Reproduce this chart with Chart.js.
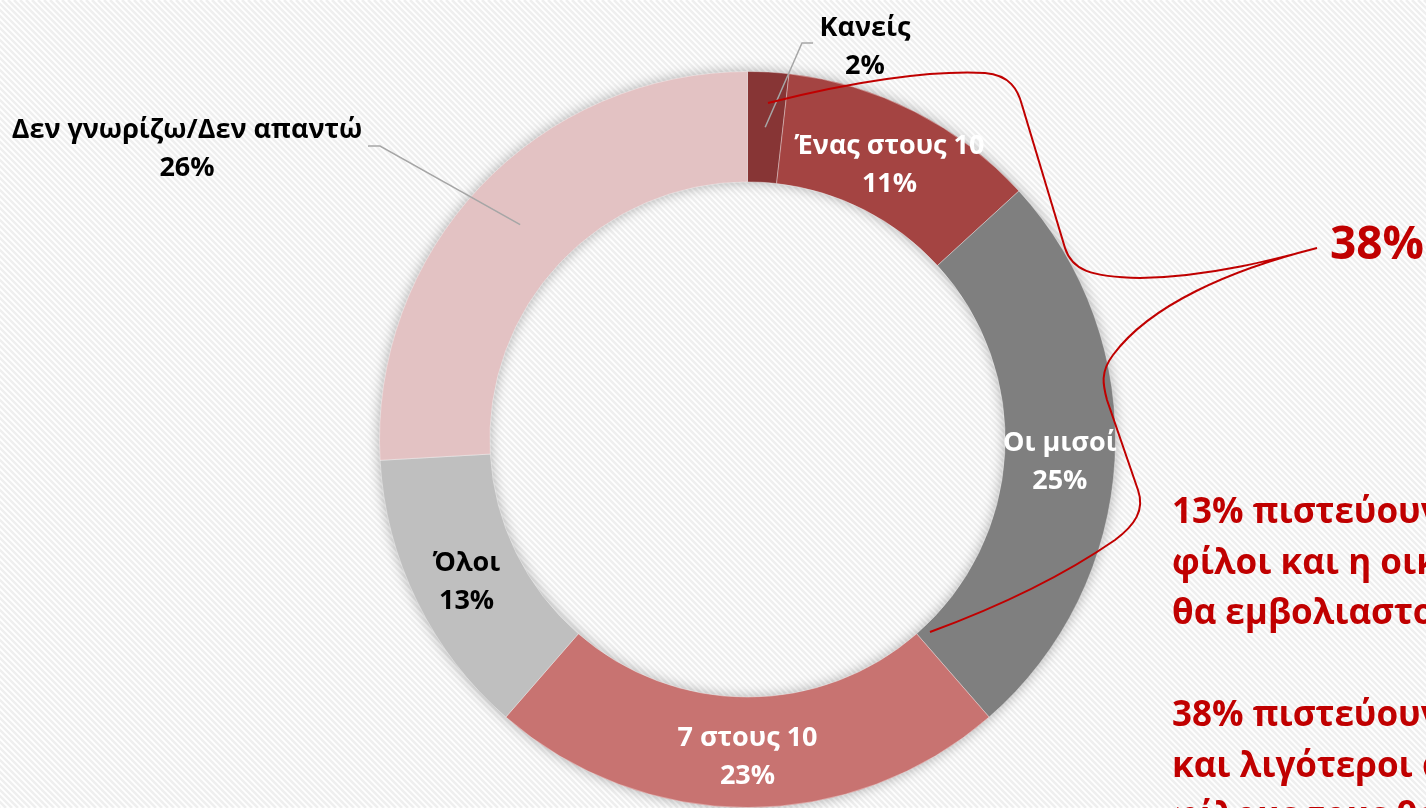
<!DOCTYPE html>
<html lang="el">
<head>
    <meta charset="UTF-8">
    <title>Εμβολιασμός - φίλοι και οικογένεια</title>
    <script src="https://cdn.jsdelivr.net/npm/chart.js@4.4.1/dist/chart.umd.min.js"></script>
    <style>
        html, body { margin: 0; padding: 0; background: #fff; overflow: hidden; }
        #wrap { width: 1426px; height: 808px; }
    </style>
</head>
<body>
<div id="wrap"><canvas id="donut" width="1426" height="808"></canvas></div>
<script>
    const categories = ['Κανείς', 'Ένας στους 10', 'Οι μισοί', '7 στους 10', 'Όλοι', 'Δεν γνωρίζω/Δεν απαντώ'];
    const shares = [1.8, 11.4, 25.4, 22.8, 12.7, 25.9];
    const bracketTotal = '38%';
    const noteLines = [
        '13% πιστεύουν ότι όλοι οι',
        'φίλοι και η οικογένειά τους',
        'θα εμβολιαστούν',
        '',
        '38% πιστεύουν ότι οι μισοί',
        'και λιγότεροι από τους',
        'φίλους τους θα εμβολιαστούν'
    ];

    // styling
    const sliceColors = ['#873535', '#A44442', '#7F7F7F', '#C87371', '#BFBFBF', '#E3C2C3'];
    const labelColors = ['#000', '#fff', '#fff', '#fff', '#000', '#000'];
    const RED = '#C00000';
    const labelFont = 'bold 27px "Open Sans", sans-serif';

    // labels that sit outside the ring: text centre + leader bend
    const outside = {
        0: { x: 865, y: 45, bend: [802, 43], end: [813, 43] },
        5: { x: 187, y: 147, bend: [380, 146], end: [368, 146] }
    };

    const background = {
        id: 'background',
        beforeDraw(chart) {
            const ctx = chart.ctx;
            const w = chart.width, h = chart.height;
            ctx.save();
            ctx.fillStyle = '#fff';
            ctx.fillRect(0, 0, w, h);
            ctx.strokeStyle = '#efefef';
            ctx.lineWidth = 2.5;
            ctx.beginPath();
            for (let s = -h; s < w + h; s += 6) {
                ctx.moveTo(s, 0);
                ctx.lineTo(s + h, h);
            }
            ctx.stroke();
            ctx.restore();
        }
    };

    const ringShadow = {
        id: 'ringShadow',
        beforeDatasetsDraw(chart) {
            const arc = chart.getDatasetMeta(0).data[0];
            if (!arc) return;
            const { x, y, outerRadius, innerRadius } = arc.getProps(['x', 'y', 'outerRadius', 'innerRadius'], true);
            const ctx = chart.ctx;
            ctx.save();
            ctx.shadowColor = 'rgba(0,0,0,0.35)';
            ctx.shadowBlur = 14;
            ctx.fillStyle = '#bbb';
            ctx.beginPath();
            ctx.arc(x, y, outerRadius - 1, 0, Math.PI * 2);
            ctx.arc(x, y, innerRadius + 1, 0, Math.PI * 2, true);
            ctx.fill('evenodd');
            ctx.restore();
        }
    };

    const sliceLabels = {
        id: 'sliceLabels',
        afterDatasetsDraw(chart) {
            const ctx = chart.ctx;
            const meta = chart.getDatasetMeta(0);
            ctx.save();
            ctx.font = labelFont;
            ctx.textAlign = 'center';
            ctx.textBaseline = 'middle';
            meta.data.forEach((arc, i) => {
                const text = [categories[i], Math.round(shares[i]) + '%'];
                const c = arc.getCenterPoint();
                let px = c.x, py = c.y + 3;
                const o = outside[i];
                if (o) {
                    ctx.strokeStyle = '#A6A6A6';
                    ctx.lineWidth = 1.5;
                    ctx.beginPath();
                    ctx.moveTo(c.x, c.y);
                    ctx.lineTo(o.bend[0], o.bend[1]);
                    ctx.lineTo(o.end[0], o.end[1]);
                    ctx.stroke();
                    px = o.x; py = o.y;
                }
                ctx.fillStyle = labelColors[i];
                ctx.fillText(text[0], px, py - 17);
                ctx.fillText(text[1], px, py + 21);
            });
            ctx.restore();
        }
    };

    const bracket = {
        id: 'bracket',
        afterDraw(chart) {
            const ctx = chart.ctx;
            ctx.save();
            ctx.strokeStyle = RED;
            ctx.lineWidth = 2;
            ctx.beginPath();
            ctx.moveTo(768, 103);
            ctx.bezierCurveTo(850, 82, 930, 70, 985, 73);
            ctx.bezierCurveTo(1010, 75, 1018, 90, 1022, 105);
            ctx.lineTo(1065, 248);
            ctx.bezierCurveTo(1072, 270, 1090, 277, 1140, 278);
            ctx.bezierCurveTo(1210, 277, 1280, 258, 1317, 248);
            ctx.bezierCurveTo(1230, 270, 1150, 305, 1113, 355);
            ctx.bezierCurveTo(1100, 372, 1103, 385, 1107, 400);
            ctx.lineTo(1138, 490);
            ctx.bezierCurveTo(1145, 510, 1135, 525, 1115, 540);
            ctx.bezierCurveTo(1060, 578, 990, 610, 930, 632);
            ctx.stroke();

            ctx.fillStyle = RED;
            ctx.textAlign = 'left';
            ctx.textBaseline = 'alphabetic';
            ctx.font = 'bold 46px "Open Sans", sans-serif';
            ctx.fillText(bracketTotal, 1330, 259);

            ctx.font = 'bold 35px "Open Sans", sans-serif';
            noteLines.forEach((line, i) => {
                if (line) ctx.fillText(line, 1172, 523 + i * 50.7);
            });
            ctx.restore();
        }
    };

    new Chart(document.getElementById('donut'), {
        type: 'doughnut',
        data: {
            labels: categories,
            datasets: [{
                data: shares,
                backgroundColor: sliceColors,
                borderColor: 'rgba(255,255,255,0.35)',
                borderWidth: 1
            }]
        },
        options: {
            responsive: false,
            devicePixelRatio: 1,
            animation: false,
            cutout: '70%',
            rotation: 0,
            layout: {
                padding: { top: 71, bottom: -2, left: 378, right: 309 }
            },
            plugins: {
                legend: { display: false },
                tooltip: { enabled: false }
            }
        },
        plugins: [background, ringShadow, sliceLabels, bracket]
    });
</script>
</body>
</html>
